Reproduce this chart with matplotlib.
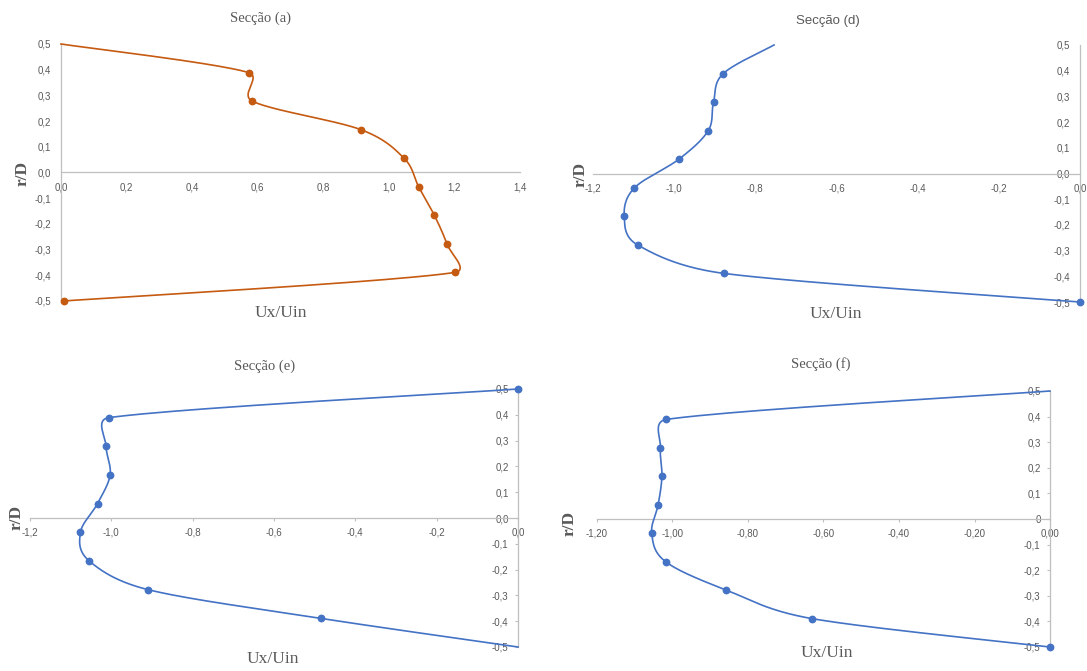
import numpy as np
import matplotlib
matplotlib.use("Agg")
import matplotlib.pyplot as plt
from matplotlib.ticker import FuncFormatter, MultipleLocator

# ---------------- data ----------------
r_D = [0.5, 0.389, 0.278, 0.167, 0.056, -0.056, -0.167, -0.278, -0.389, -0.5]

ux_a = [0.0, 0.572, 0.583, 0.914, 1.046, 1.091, 1.139, 1.177, 1.201, 0.008]
ux_d = [-0.754, -0.879, -0.903, -0.916, -0.988, -1.098, -1.123, -1.090, -0.876, 0.0]
ux_e = [0.0, -1.006, -1.013, -1.003, -1.034, -1.076, -1.054, -0.909, -0.485, 0.0]
ux_f = [0.0, -1.016, -1.032, -1.028, -1.038, -1.055, -1.018, -0.857, -0.631, 0.0]

titles = ["Secção (a)", "Secção (d)", "Secção (e)", "Secção (f)"]
xlabel = "Ux/Uin"
ylabel = "r/D"

W, H = 1087, 671
ORANGE = "#C55A11"
BLUE = "#4472C4"
AXC = "#BFBFBF"
TXT = "#595959"

fig = plt.figure(figsize=(W / 100, H / 100), dpi=100)


def make_ax(x0, x1, ytop, ybot, xlim, ylim):
    ax = fig.add_axes([x0 / W, 1 - ybot / H, (x1 - x0) / W, (ybot - ytop) / H])
    ax.set_xlim(*xlim)
    ax.set_ylim(*ylim)
    ax.patch.set_alpha(0)
    for s in ["top", "right"]:
        ax.spines[s].set_visible(False)
    ax.spines["left"].set_position(("data", 0))
    ax.spines["bottom"].set_position(("data", 0))
    for s in ["left", "bottom"]:
        ax.spines[s].set_color(AXC)
        ax.spines[s].set_linewidth(0.9)
    return ax


def excel_smooth(ax, x, y, n=40):
    pts = ax.transData.transform(np.column_stack([x, y]))
    out = []
    m = len(pts)
    for i in range(m - 1):
        p0 = pts[i - 1] if i > 0 else pts[i]
        p1 = pts[i]
        p2 = pts[i + 1]
        p3 = pts[i + 2] if i + 2 < m else pts[i + 1]
        d12 = np.linalg.norm(p2 - p1)
        d02 = np.linalg.norm(p2 - p0)
        d13 = np.linalg.norm(p3 - p1)
        f0 = 1 / 6
        f3 = 1 / 6
        if d02 > 0 and d02 / 6 >= d12 / 2:
            f0 = d12 / d02 / 2
        if d13 > 0 and d13 / 6 >= d12 / 2:
            f3 = d12 / d13 / 2
        c1 = p1 + (p2 - p0) * f0
        c2 = p2 - (p3 - p1) * f3
        t = np.linspace(0, 1, n)[:, None]
        seg = (1 - t) ** 3 * p1 + 3 * (1 - t) ** 2 * t * c1 + 3 * (1 - t) * t ** 2 * c2 + t ** 3 * p2
        out.append(seg if i == 0 else seg[1:])
    return ax.transData.inverted().transform(np.vstack(out))


def fmt(dec, zero=None):
    def f(v, p):
        if abs(v) < 1e-9:
            return zero if zero is not None else f"{0:.{dec}f}".replace(".", ",")
        return f"{v:.{dec}f}".replace(".", ",")
    return FuncFormatter(f)


def style_ticks(ax, xdec=1, ydec=1, yzero=None, ticks=False):
    ax.xaxis.set_major_locator(MultipleLocator(0.2))
    ax.yaxis.set_major_locator(MultipleLocator(0.1))
    ax.xaxis.set_major_formatter(fmt(xdec))
    ax.yaxis.set_major_formatter(fmt(ydec, yzero))
    if ticks:
        ax.tick_params(axis="both", direction="out", length=2.3, width=0.8, color=AXC,
                       labelsize=7, labelcolor=TXT, pad=4.5)
    else:
        ax.tick_params(axis="both", length=0, labelsize=7, labelcolor=TXT, pad=7)
    for lab in ax.get_xticklabels() + ax.get_yticklabels():
        lab.set_fontfamily("Liberation Sans")


def draw(ax, x, y, color, mark_idx):
    s = excel_smooth(ax, x, y)
    ax.plot(s[:, 0], s[:, 1], color=color, lw=1.2, clip_on=False, zorder=3)
    mx = [x[i] for i in mark_idx]
    my = [y[i] for i in mark_idx]
    ax.plot(mx, my, "o", color=color, ms=4.6, clip_on=False, zorder=4)


def ftext(x, y, s, **kw):
    fig.text(x / W, 1 - y / H, s, ha="center", va="center", color=TXT, **kw)


# Panel (a)
ax_a = make_ax(61, 520, 44, 301, (0, 1.4), (-0.5, 0.5))
style_ticks(ax_a)
draw(ax_a, ux_a, r_D, ORANGE, range(1, 10))

# Panel (d)
ax_d = make_ax(593, 1080, 45, 302, (-1.2, 0), (-0.5, 0.5))
style_ticks(ax_d)
draw(ax_d, ux_d, r_D, BLUE, range(1, 10))

# Panel (e)
ax_e = make_ax(30, 518, 389, 647, (-1.2, 0), (-0.5, 0.5))
style_ticks(ax_e, ticks=True)
draw(ax_e, ux_e, r_D, BLUE, range(0, 9))

# Panel (f)
ax_f = make_ax(597, 1050, 391, 647, (-1.2, 0), (-0.5, 0.5))
style_ticks(ax_f, xdec=2, ydec=1, yzero="0", ticks=True)
draw(ax_f, ux_f, r_D, BLUE, range(1, 10))

serif = "Liberation Serif"
# titles
ftext(261, 18, titles[0], family=serif, fontsize=10.5)
ftext(828, 21, titles[1], family="Liberation Sans", fontsize=9.5)
ftext(265, 366, titles[2], family=serif, fontsize=10.5)
ftext(821, 364, titles[3], family=serif, fontsize=10.5)

# x labels
for (x, y) in [(281, 313), (836, 314), (273, 659), (827, 653)]:
    ftext(x, y, xlabel, family=serif, fontsize=12.5)

# y labels
for (x, y) in [(23, 173), (581, 174), (17, 517), (570, 523)]:
    ftext(x, y, ylabel, family=serif, fontsize=12.5, rotation=90, fontweight="bold")

fig.savefig("out.png", dpi=100)
